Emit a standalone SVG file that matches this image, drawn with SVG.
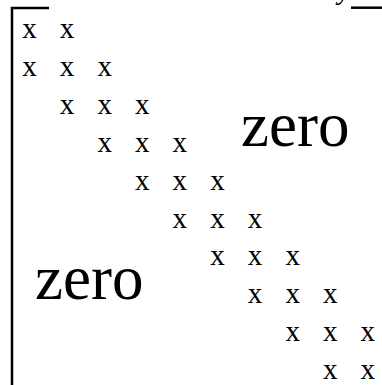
<svg xmlns="http://www.w3.org/2000/svg" width="382" height="385" viewBox="0 0 382 385">
<style>
.x{font-family:"Liberation Serif","Times New Roman",serif;font-size:29px;fill:#000}
.z{font-family:"Liberation Serif","Times New Roman",serif;font-size:63px;fill:#000}
.b{stroke:#000;stroke-width:2.5;fill:none}
</style>
<rect width="382" height="385" fill="#fff"/>
<g id="bracket">
<path class="b" d="M12 385 V8 H49"/>
</g>
<g id="top-edge">
<text class="x" x="338" y="-1" font-style="italic">y</text>
<line class="b" x1="351" y1="7.7" x2="382" y2="7.7" stroke-width="2"/>
</g>
<g id="entries">
<text class="x" x="22.2" y="38">x</text><text class="x" x="59.8" y="38">x</text>
<text class="x" x="22.2" y="75.9">x</text><text class="x" x="59.8" y="75.9">x</text><text class="x" x="97.4" y="75.9">x</text>
<text class="x" x="59.8" y="113.8">x</text><text class="x" x="97.4" y="113.8">x</text><text class="x" x="135" y="113.8">x</text>
<text class="x" x="97.4" y="151.7">x</text><text class="x" x="135" y="151.7">x</text><text class="x" x="172.6" y="151.7">x</text>
<text class="x" x="135" y="189.6">x</text><text class="x" x="172.6" y="189.6">x</text><text class="x" x="210.2" y="189.6">x</text>
<text class="x" x="172.6" y="227.5">x</text><text class="x" x="210.2" y="227.5">x</text><text class="x" x="247.8" y="227.5">x</text>
<text class="x" x="210.2" y="265.4">x</text><text class="x" x="247.8" y="265.4">x</text><text class="x" x="285.4" y="265.4">x</text>
<text class="x" x="247.8" y="303.3">x</text><text class="x" x="285.4" y="303.3">x</text><text class="x" x="323" y="303.3">x</text>
<text class="x" x="285.4" y="341.2">x</text><text class="x" x="323" y="341.2">x</text><text class="x" x="360.6" y="341.2">x</text>
<text class="x" x="323" y="379.1">x</text><text class="x" x="360.6" y="379.1">x</text>
</g>
<g id="zero-upper"><text class="z" x="241" y="146">zero</text></g>
<g id="zero-lower"><text class="z" x="35" y="299.4">zero</text></g>
</svg>
